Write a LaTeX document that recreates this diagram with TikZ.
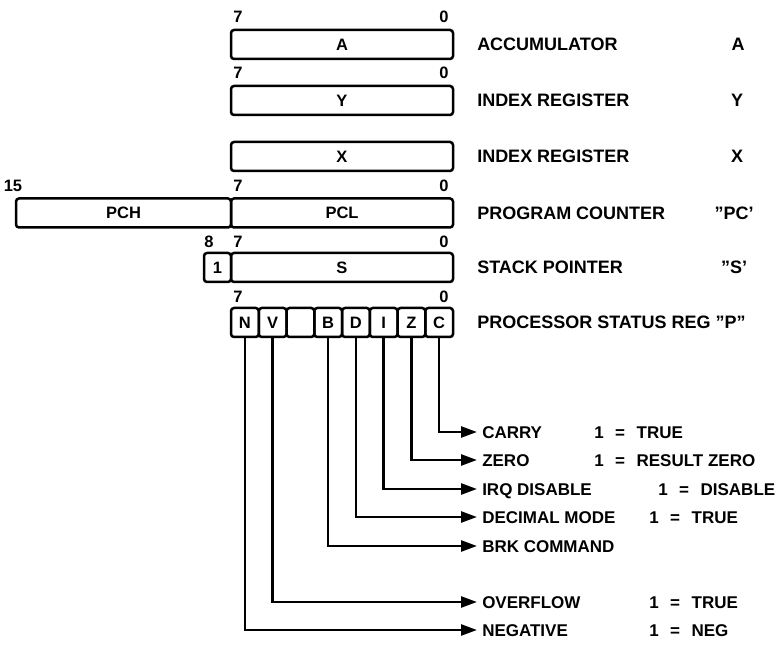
\documentclass[tikz,border=0pt]{standalone}
\usepackage{fontspec}
\setmainfont{Liberation Sans}
\usetikzlibrary{arrows.meta}
\newcommand\eqsp{\hspace{11.5pt}}
\tikzset{
  >={Triangle[length=16pt,width=11pt]},
  every picture/.style={line width=2.5pt,font=\bfseries\fontsize{16.5}{18}\selectfont},
  reg/.style={draw,rounded corners=3pt,minimum height=29pt,inner sep=0pt,outer sep=0pt},
  bit/.style={reg,minimum width=27.75pt},
  num/.style={inner sep=0pt},
  regname/.style={anchor=west,inner sep=0pt,text height=13pt,text depth=0pt,font=\bfseries\fontsize{18}{20}\selectfont},
  regtag/.style={regname,anchor=center},
  flagname/.style={anchor=west,inner sep=4pt,text height=12pt,text depth=0pt,font=\bfseries\fontsize{17}{19}\selectfont},
  flagval/.style={flagname,inner sep=0pt},
  link/.style={->},
}
\begin{document}
\begin{tikzpicture}[x=1pt,y=-1pt]
  \useasboundingbox (0,0) rectangle (780,655);
  % accumulator and index registers
  \node[reg,minimum width=222pt] (A) at (342,44.5) {A};
  \node[num] (a7) at (238,17) {7}; \node[num] (a0) at (444,17) {0};
  \node[reg,minimum width=222pt] (Y) at (342,100.5) {Y};
  \node[num] (y7) at (238,73) {7}; \node[num] (y0) at (444,73) {0};
  \node[reg,minimum width=222pt] (X) at (342,156.5) {X};
  % program counter
  \node[reg,minimum width=215pt] (PCH) at (123.5,213) {PCH};
  \node[reg,minimum width=222pt] (PCL) at (342,213) {PCL};
  \node[num] (p15) at (13,186) {15}; \node[num] (p7) at (238,186) {7}; \node[num] (p0) at (444,186) {0};
  % stack pointer
  \node[reg,minimum width=27pt] (S1) at (217.5,267.5) {1};
  \node[reg,minimum width=222pt] (S) at (342,267.5) {S};
  \node[num] (s8) at (209,242) {8}; \node[num] (s7) at (238,242) {7}; \node[num] (s0) at (444,242) {0};
  % status register
  \foreach \nm/\t [count=\i from 0] in {N/N,V/V,U/{},B/B,D/D,I/I,Z/Z,C/C}
    \node[bit] (b\nm) at ({231+27.75*(\i+0.5)},322.5) {\t};
  \node[num] (f7) at (238,297) {7}; \node[num] (f0) at (444,297) {0};

  \node[regname] (nA) at (476,44.5) {ACCUMULATOR};   \node[regtag] (tA) at (738,44.5) {A};
  \node[regname] (nY) at (476,100.5) {INDEX REGISTER}; \node[regtag] (tY) at (737,100.5) {Y};
  \node[regname] (nX) at (476,156.5) {INDEX REGISTER}; \node[regtag] (tX) at (737,156.5) {X};
  \node[regname] (nPC) at (476,213) {PROGRAM COUNTER}; \node[regtag] (tPC) at (734,213) {"PC'};
  \node[regname] (nS) at (476,267.5) {STACK POINTER};  \node[regtag] (tS) at (734,267.5) {"S'};
  \node[regname] (nP) at (476,322.5) {PROCESSOR STATUS REG "P"};

  % flags
  \node[flagname] (carry) at (477,432) {CARRY};      \node[flagval] (vC) at (593,432) {1\eqsp=\eqsp TRUE};
  \node[flagname] (zero) at (477,460) {ZERO};        \node[flagval] (vZ) at (593,460) {1\eqsp=\eqsp RESULT ZERO};
  \node[flagname] (irq) at (477,489) {IRQ DISABLE};  \node[flagval] (vI) at (657,489) {1\eqsp=\eqsp DISABLE};
  \node[flagname] (dec) at (477,517) {DECIMAL MODE}; \node[flagval] (vD) at (648,517) {1\eqsp=\eqsp TRUE};
  \node[flagname] (brk) at (477,546) {BRK COMMAND};
  \node[flagname] (ovf) at (477,602) {OVERFLOW};     \node[flagval] (vV) at (648,602) {1\eqsp=\eqsp TRUE};
  \node[flagname] (neg) at (477,630) {NEGATIVE};     \node[flagval] (vN) at (648,630) {1\eqsp=\eqsp NEG};
  \foreach \b/\f in {C/carry,Z/zero,I/irq,D/dec,B/brk,V/ovf,N/neg}
    \draw[link] (b\b.south) |- (\f.west);
\end{tikzpicture}
\end{document}
